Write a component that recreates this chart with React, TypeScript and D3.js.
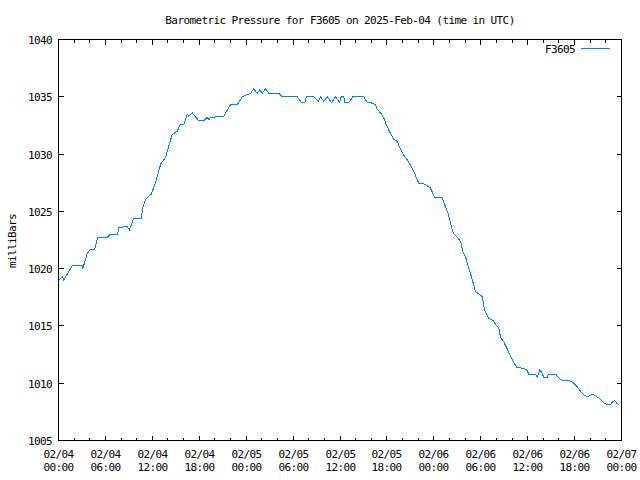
import React from "react";
import * as d3 from "d3";

// Hours since 2025-02-04 00:00 UTC
const hours = [
  0.0, 0.51, 0.68, 1.75, 3.03, 3.11, 3.67, 4.09, 4.64, 5.03, 6.23, 6.65, 7.55, 7.71, 8.79, 9.08,
  9.63, 10.58, 10.78, 11.13, 11.86, 12.41, 13.08, 13.68, 14.11, 14.54, 15.18, 15.6, 16.03, 16.46,
  16.66, 17.1, 17.94, 18.58, 19.02, 19.22, 19.44, 21.14, 21.36, 22.0, 22.85, 23.06, 23.49, 24.13,
  24.56, 24.98, 25.41, 25.74, 26.05, 26.47, 26.9, 28.17, 28.61, 30.53, 31.08, 31.5, 31.68, 32.65,
  33.21, 33.51, 33.93, 34.36, 34.91, 35.43, 35.94, 36.16, 36.49, 36.62, 37.13, 37.64, 39.05, 39.48,
  40.12, 40.54, 40.76, 41.18, 41.6, 42.03, 42.46, 42.88, 43.32, 43.74, 44.16, 44.6, 45.02, 45.44,
  45.88, 46.08, 46.72, 47.49, 47.79, 48.13, 49.07, 49.49, 49.84, 50.13, 50.48, 50.9, 51.29, 51.54,
  51.63, 52.05, 52.35, 52.91, 53.33, 53.75, 54.19, 54.48, 55.03, 55.54, 55.89, 56.31, 56.53, 56.95,
  57.38, 57.72, 58.15, 58.58, 59.3, 59.85, 60.15, 61.0, 61.22, 61.55, 61.86, 62.07, 62.5, 62.63,
  63.56, 64.2, 64.63, 65.27, 65.91, 66.34, 66.76, 67.18, 67.61, 67.94, 68.12, 68.45, 68.9, 69.32,
  69.74, 70.09, 70.6, 70.82, 71.11, 71.45, 71.65,
];

const pressure = [
  1019.0, 1019.3, 1019.0, 1020.25, 1020.25, 1020.0, 1021.3, 1021.7, 1021.7, 1022.75, 1022.75, 1023.0,
  1023.0, 1023.6, 1023.67, 1023.4, 1024.4, 1024.4, 1025.3, 1026.05, 1026.5, 1027.5, 1029.15, 1029.7,
  1030.7, 1031.7, 1032.0, 1032.6, 1032.6, 1033.5, 1033.3, 1033.6, 1032.9, 1032.9, 1033.2, 1033.0,
  1033.2, 1033.3, 1033.6, 1034.3, 1034.3, 1034.5, 1035.0, 1035.2, 1035.3, 1035.7, 1035.3, 1035.6,
  1035.3, 1035.7, 1035.3, 1035.3, 1035.0, 1035.0, 1034.5, 1034.5, 1035.0, 1035.0, 1034.6, 1035.0,
  1034.6, 1035.0, 1034.5, 1035.0, 1034.5, 1035.0, 1035.0, 1034.5, 1034.5, 1035.0, 1035.0, 1034.5,
  1034.45, 1034.3, 1033.9, 1033.6, 1033.15, 1032.4, 1031.8, 1031.3, 1031.1, 1030.4, 1029.9, 1029.5,
  1029.0, 1028.5, 1027.75, 1027.45, 1027.4, 1027.1, 1026.7, 1026.2, 1026.2, 1025.4, 1024.8, 1024.0,
  1023.1, 1022.8, 1022.5, 1022.15, 1021.6, 1021.05, 1020.3, 1019.05, 1018.0, 1017.8, 1017.55, 1016.4,
  1015.65, 1015.5, 1015.15, 1014.85, 1014.0, 1013.6, 1013.0, 1012.5, 1011.9, 1011.4, 1011.3, 1011.2,
  1010.8, 1010.8, 1010.5, 1011.2, 1010.85, 1010.5, 1010.5, 1010.8, 1010.8, 1010.3, 1010.25, 1010.25,
  1010.0, 1009.7, 1009.3, 1009.0, 1008.8, 1008.9, 1009.0, 1009.0, 1008.8, 1008.6, 1008.3, 1008.15,
  1008.15, 1008.35, 1008.5, 1008.2, 1008.15,
];

const yTicks = [1005, 1010, 1015, 1020, 1025, 1030, 1035, 1040];
const majorTickHours = [0, 6, 12, 18, 24, 30, 36, 42, 48, 54, 60, 66, 72];
const minorTickHours = d3.range(0, 73, 2).filter((h) => h % 6 !== 0);

const TITLE = "Barometric Pressure for F3605 on 2025-Feb-04 (time in UTC)";
const Y_LABEL = "milliBars";
const SERIES = "F3605";

const BASE = Date.UTC(2025, 1, 4, 0, 0, 0);
const toDate = (h: number) => new Date(BASE + h * 3600 * 1000);

const W = 640;
const H = 480;
const L = 58.5;
const R = 621.5;
const T = 39.5;
const B = 440.5;

const FONT = "'DejaVu Sans Mono', 'Liberation Mono', monospace";
const COLOR = "#0080ff";

export default function App() {
  const x = d3.scaleUtc().domain([toDate(0), toDate(72)]).range([L, R]);
  const y = d3.scaleLinear().domain([1005, 1040]).range([B, T]);
  const fmtDay = d3.utcFormat("%m/%d");
  const fmtTime = d3.utcFormat("%H:%M");

  const pts: [Date, number][] = hours.map((h, i) => [toDate(h), pressure[i]]);
  const line = d3
    .line<[Date, number]>()
    .x((d) => x(d[0]))
    .y((d) => y(d[1]));

  const textStyle: React.CSSProperties = {
    fontFamily: FONT,
    fontSize: 11,
    letterSpacing: -0.6,
  };

  return (
    <svg
      width={W}
      height={H}
      viewBox={`0 0 ${W} ${H}`}
      style={{ position: "absolute", left: 0, top: 0, background: "#fff" }}
    >
      <rect x={0} y={0} width={W} height={H} fill="#fff" />
      <text x={(L + R) / 2} y={24} textAnchor="middle" style={textStyle} fill="#000">
        {TITLE}
      </text>
      <text
        transform={`translate(16,241) rotate(-90)`}
        textAnchor="middle"
        style={textStyle}
        fill="#000"
      >
        {Y_LABEL}
      </text>

      {/* Y ticks */}
      {yTicks.map((v) => {
        const yy = Math.round(y(v) - 0.5) + 0.5;
        return (
          <g key={`y${v}`}>
            <line x1={L} x2={L + 5} y1={yy} y2={yy} stroke="#000" shapeRendering="crispEdges" />
            <line x1={R} x2={R - 5} y1={yy} y2={yy} stroke="#000" shapeRendering="crispEdges" />
            <text x={52} y={yy + 4} textAnchor="end" style={textStyle} fill="#000">
              {v}
            </text>
          </g>
        );
      })}

      {/* X minor ticks */}
      {minorTickHours.map((h) => {
        const xx = Math.round(x(toDate(h)) - 0.5) + 0.5;
        return (
          <g key={`xm${h}`}>
            <line x1={xx} x2={xx} y1={B} y2={B - 3} stroke="#000" shapeRendering="crispEdges" />
            <line x1={xx} x2={xx} y1={T} y2={T + 3} stroke="#000" shapeRendering="crispEdges" />
          </g>
        );
      })}

      {/* X major ticks */}
      {majorTickHours.map((h) => {
        const d = toDate(h);
        const xx = Math.round(x(d) - 0.5) + 0.5;
        return (
          <g key={`xM${h}`}>
            <line x1={xx} x2={xx} y1={B} y2={B - 5} stroke="#000" shapeRendering="crispEdges" />
            <line x1={xx} x2={xx} y1={T} y2={T + 5} stroke="#000" shapeRendering="crispEdges" />
            <text x={xx} y={458} textAnchor="middle" style={textStyle} fill="#000">
              {fmtDay(d)}
            </text>
            <text x={xx} y={471} textAnchor="middle" style={textStyle} fill="#000">
              {fmtTime(d)}
            </text>
          </g>
        );
      })}

      {/* Data line */}
      <path
        d={line(pts) || ""}
        fill="none"
        stroke={COLOR}
        strokeWidth={1}
        shapeRendering="crispEdges"
      />

      {/* Frame */}
      <rect
        x={L}
        y={T}
        width={R - L}
        height={B - T}
        fill="none"
        stroke="#000"
        strokeWidth={1}
        shapeRendering="crispEdges"
      />

      {/* Legend */}
      <text x={575} y={53} textAnchor="end" style={textStyle} fill="#000">
        {SERIES}
      </text>
      <line
        x1={581}
        x2={610}
        y1={48.5}
        y2={48.5}
        stroke={COLOR}
        strokeWidth={1}
        shapeRendering="crispEdges"
      />
    </svg>
  );
}
